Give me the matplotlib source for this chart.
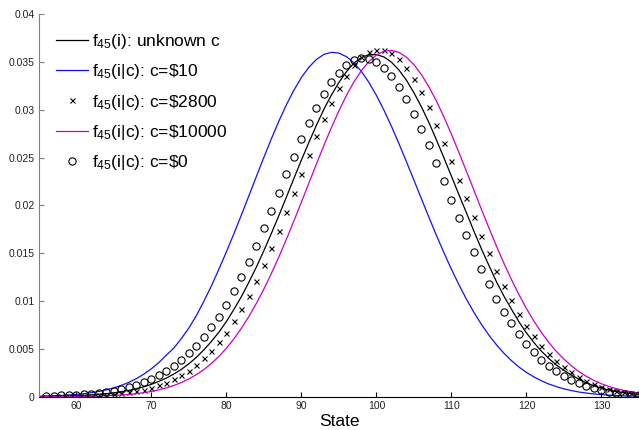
import numpy as np
import matplotlib
matplotlib.use("Agg")
import matplotlib.pyplot as plt
from matplotlib.ticker import FuncFormatter

plt.rcParams['font.family'] = ['Liberation Sans', 'DejaVu Sans']
plt.rcParams['mathtext.fontset'] = 'custom'
plt.rcParams['mathtext.rm'] = 'Liberation Sans'
plt.rcParams['mathtext.it'] = 'Liberation Sans:italic'

# states for the lines (55..135) and the markers (56..135)
line_states = np.arange(55, 136)
mark_states = np.arange(56, 136)

# f45(i): unknown c
unknown_c = [
    0.00002, 0.00003, 0.00006, 0.00007, 0.00010, 0.00012, 0.00015, 0.00019, 0.00026, 0.00032,
    0.00041, 0.00053, 0.00066, 0.00084, 0.00104, 0.00130, 0.00161, 0.00195, 0.00238, 0.00287,
    0.00345, 0.00413, 0.00491, 0.00579, 0.00676, 0.00787, 0.00914, 0.01048, 0.01199, 0.01358,
    0.01529, 0.01710, 0.01896, 0.02088, 0.02284, 0.02475, 0.02661, 0.02839, 0.03006, 0.03155,
    0.03286, 0.03398, 0.03488, 0.03545, 0.03574, 0.03576, 0.03551, 0.03496, 0.03414, 0.03307,
    0.03176, 0.03028, 0.02864, 0.02683, 0.02495, 0.02304, 0.02109, 0.01921, 0.01728, 0.01544,
    0.01370, 0.01201, 0.01050, 0.00914, 0.00782, 0.00666, 0.00565, 0.00475, 0.00398, 0.00331,
    0.00275, 0.00226, 0.00183, 0.00144, 0.00114, 0.00088, 0.00069, 0.00053, 0.00041, 0.00031,
    0.00024]

# c = $10
c10 = [
    0.00005, 0.00007, 0.00010, 0.00013, 0.00018, 0.00024, 0.00032, 0.00042, 0.00056, 0.00072,
    0.00093, 0.00119, 0.00151, 0.00190, 0.00237, 0.00293, 0.00358, 0.00436, 0.00510, 0.00610,
    0.00720, 0.00850, 0.01000, 0.01160, 0.01335, 0.01517, 0.01706, 0.01902, 0.02103, 0.02305,
    0.02505, 0.02699, 0.02883, 0.03053, 0.03206, 0.03338, 0.03445, 0.03526, 0.03578, 0.03600,
    0.03591, 0.03554, 0.03489, 0.03399, 0.03284, 0.03148, 0.02994, 0.02825, 0.02644, 0.02455,
    0.02262, 0.02067, 0.01874, 0.01685, 0.01504, 0.01331, 0.01169, 0.01018, 0.00880, 0.00755,
    0.00642, 0.00542, 0.00454, 0.00377, 0.00310, 0.00254, 0.00206, 0.00166, 0.00132, 0.00105,
    0.00082, 0.00064, 0.00049, 0.00038, 0.00029, 0.00022, 0.00016, 0.00012, 0.00009, 0.00007,
    0.00005]

# c = $10000
c10000 = [
    0.000004, 0.000006, 0.000009, 0.000013, 0.000019, 0.000026, 0.000037, 0.000052, 0.000072, 0.000099,
    0.000134, 0.000181, 0.000243, 0.000322, 0.000425, 0.000554, 0.000718, 0.000923, 0.001177, 0.001486,
    0.001862, 0.002314, 0.002852, 0.003484, 0.004225, 0.005079, 0.006056, 0.007164, 0.008406, 0.009774,
    0.01128, 0.01290, 0.01464, 0.01648, 0.01840, 0.02036, 0.02236, 0.02434, 0.02629, 0.02815,
    0.02990, 0.03150, 0.03291, 0.03410, 0.03505, 0.03572, 0.03611, 0.03620, 0.03599, 0.03548,
    0.03470, 0.03366, 0.03237, 0.03089, 0.02922, 0.02742, 0.02551, 0.02355, 0.02156, 0.01957,
    0.01762, 0.01573, 0.01393, 0.01224, 0.01066, 0.00921, 0.00789, 0.00670, 0.00565, 0.00472,
    0.00392, 0.00322, 0.00262, 0.00212, 0.00170, 0.00135, 0.00107, 0.00084, 0.00065, 0.00050,
    0.00038]

# c = $2800 (x markers)
c2800 = [
    0.00001, 0.00002, 0.00003, 0.00004, 0.00006, 0.00008, 0.00011, 0.00015, 0.00020, 0.00027,
    0.00035, 0.00045, 0.00058, 0.00074, 0.00094, 0.00119, 0.00146, 0.00182, 0.00224, 0.00272,
    0.00332, 0.00402, 0.00481, 0.00569, 0.00670, 0.00789, 0.00914, 0.01057, 0.01210, 0.01374,
    0.01552, 0.01737, 0.01929, 0.02134, 0.02330, 0.02528, 0.02720, 0.02904, 0.03069, 0.03222,
    0.03355, 0.03470, 0.03550, 0.03603, 0.03627, 0.03627, 0.03592, 0.03530, 0.03435, 0.03320,
    0.03180, 0.03023, 0.02845, 0.02657, 0.02466, 0.02267, 0.02074, 0.01874, 0.01682, 0.01500,
    0.01318, 0.01158, 0.01012, 0.00868, 0.00743, 0.00632, 0.00534, 0.00447, 0.00373, 0.00311,
    0.00258, 0.00209, 0.00164, 0.00130, 0.00101, 0.00080, 0.00062, 0.00048, 0.00037, 0.00028]

# c = $0 (o markers)
c0 = [
    0.00007, 0.00011, 0.00014, 0.00018, 0.00021, 0.00025, 0.00032, 0.00042, 0.00049, 0.00063,
    0.00080, 0.00098, 0.00122, 0.00150, 0.00185, 0.00224, 0.00269, 0.00321, 0.00381, 0.00454,
    0.00534, 0.00624, 0.00726, 0.00837, 0.00962, 0.01102, 0.01249, 0.01412, 0.01580, 0.01761,
    0.01946, 0.02134, 0.02326, 0.02510, 0.02692, 0.02860, 0.03017, 0.03159, 0.03285, 0.03383,
    0.03462, 0.03515, 0.03540, 0.03530, 0.03500, 0.03438, 0.03351, 0.03240, 0.03114, 0.02960,
    0.02800, 0.02626, 0.02441, 0.02253, 0.02060, 0.01872, 0.01691, 0.01510, 0.01336, 0.01176,
    0.01025, 0.00889, 0.00768, 0.00653, 0.00551, 0.00464, 0.00387, 0.00324, 0.00269, 0.00220,
    0.00178, 0.00143, 0.00115, 0.00089, 0.00068, 0.00052, 0.00040, 0.00030, 0.00023, 0.00017]

fig = plt.figure(figsize=(6.39, 4.30), dpi=100)
ax = fig.add_axes([0.061, 0.0774, 0.939, 0.8900])

ax.plot(line_states, unknown_c, color='black', lw=0.9, label=r'f$_{45}$(i): unknown c')
ax.plot(line_states, c10, color='#1010ff', lw=0.9, label=r'f$_{45}$(i|c): c=\$10')
ax.plot(mark_states, c2800, ls='none', marker='x', ms=3.6, mew=0.8, color='black',
        label=r'f$_{45}$(i|c): c=\$2800')
ax.plot(line_states, c10000, color='#c800c8', lw=0.9, label=r'f$_{45}$(i|c): c=\$10000')
ax.plot(mark_states, c0, ls='none', marker='o', ms=5.2, mew=0.8, mfc='none', mec='black',
        label=r'f$_{45}$(i|c): c=\$0')

ax.set_xlim(55, 135)
ax.set_ylim(0, 0.04)
ax.set_xticks(np.arange(60, 131, 10))
ax.set_yticks(np.arange(0, 0.0401, 0.005))
ax.yaxis.set_major_formatter(FuncFormatter(lambda v, p: '%g' % round(v, 4)))

for s in ['top', 'right']:
    ax.spines[s].set_visible(False)
ax.spines['left'].set_color('#7f7f7f')
ax.spines['bottom'].set_color('black')
ax.tick_params(axis='both', direction='in', length=3.5, labelsize=7.5, pad=3,
               labelcolor='#222222')
ax.tick_params(axis='y', color='#7f7f7f')
ax.tick_params(axis='x', color='black')

ax.set_xlabel('State', fontsize=12.5, labelpad=2)

ax.legend(loc='upper left', bbox_to_anchor=(0.028, 0.953), frameon=False, fontsize=12.5,
          handlelength=1.85, handletextpad=0.25, labelspacing=0.65, borderpad=0,
          borderaxespad=0, numpoints=1)

fig.savefig('out.png', dpi=100)
